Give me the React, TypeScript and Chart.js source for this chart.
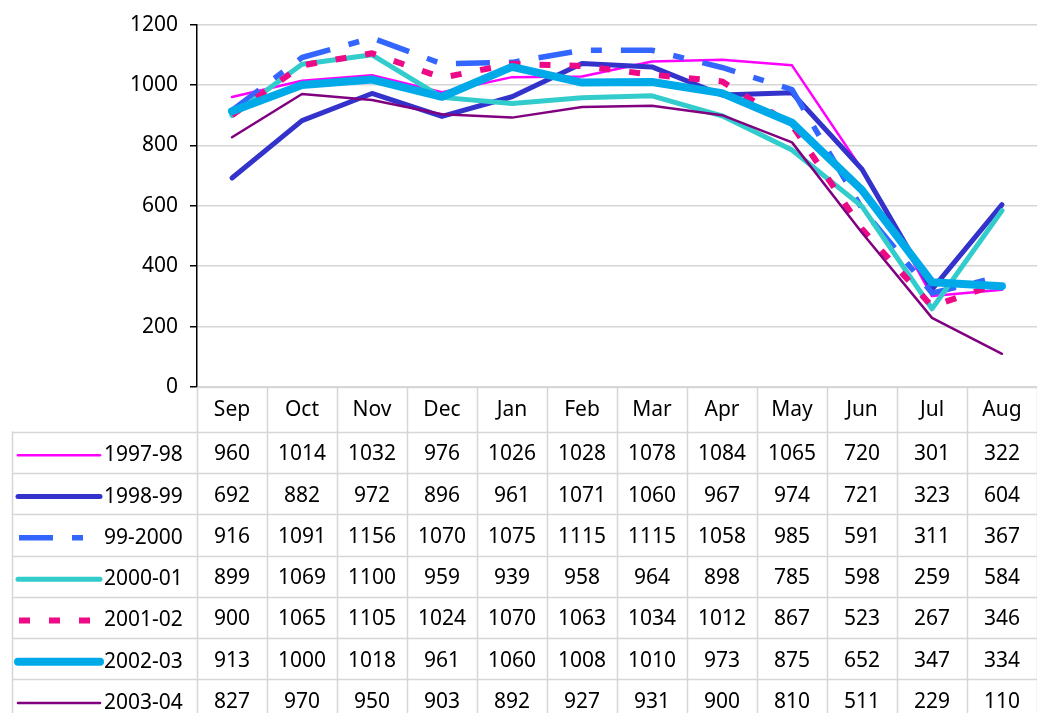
import React, { useEffect, useRef } from "react";
import { Chart, registerables } from "chart.js";

Chart.register(...registerables);

const months = ["Sep", "Oct", "Nov", "Dec", "Jan", "Feb", "Mar", "Apr", "May", "Jun", "Jul", "Aug"];
const seriesNames = ["1997-98", "1998-99", "99-2000", "2000-01", "2001-02", "2002-03", "2003-04"];

const s1997_98 = [960, 1014, 1032, 976, 1026, 1028, 1078, 1084, 1065, 720, 301, 322];
const s1998_99 = [692, 882, 972, 896, 961, 1071, 1060, 967, 974, 721, 323, 604];
const s1999_00 = [916, 1091, 1156, 1070, 1075, 1115, 1115, 1058, 985, 591, 311, 367];
const s2000_01 = [899, 1069, 1100, 959, 939, 958, 964, 898, 785, 598, 259, 584];
const s2001_02 = [900, 1065, 1105, 1024, 1070, 1063, 1034, 1012, 867, 523, 267, 346];
const s2002_03 = [913, 1000, 1018, 961, 1060, 1008, 1010, 973, 875, 652, 347, 334];
const s2003_04 = [827, 970, 950, 903, 892, 927, 931, 900, 810, 511, 229, 110];

const seriesValues = [s1997_98, s1998_99, s1999_00, s2000_01, s2001_02, s2002_03, s2003_04];

const yMin = 0;
const yMax = 1200;
const yStep = 200;

const seriesColors = ["#FF00FF", "#3333CC", "#3366FF", "#33CCCC", "#EE0A86", "#00AAE8", "#800080"];
const seriesWidths = [2.5, 5, 5.5, 5, 6, 8, 2.5];
const seriesDashes: number[][] = [[], [], [34, 19, 11, 19], [], [11, 19], [], []];

const FONT = "'Noto Sans', 'Open Sans', sans-serif";
const FONT_SIZE = 21;
const GRID = "#d6d6d6";

const tablePlugin = {
  id: "dataTable",
  afterDraw(chart: any) {
    const { ctx, chartArea, scales } = chart;
    const xs = scales.x;
    const top = chartArea.bottom;
    const right = chart.width;
    const bottom = chart.height;
    const headerH = 44.6;
    const rowH = 41.3;
    const tableLeft = 12;
    const n = months.length;
    const colW = xs.getPixelForValue(1) - xs.getPixelForValue(0);

    ctx.save();
    ctx.strokeStyle = GRID;
    ctx.lineWidth = 1.5;
    ctx.setLineDash([]);
    for (let i = 0; i <= n; i++) {
      const bx = Math.round(xs.getPixelForValue(0) - colW / 2 + i * colW) + 0.5;
      ctx.beginPath();
      ctx.moveTo(bx, top);
      ctx.lineTo(bx, bottom);
      ctx.stroke();
    }
    ctx.beginPath();
    ctx.moveTo(tableLeft + 0.5, top + headerH);
    ctx.lineTo(tableLeft + 0.5, bottom);
    ctx.stroke();
    ctx.beginPath();
    ctx.moveTo(chartArea.left, top + 0.5);
    ctx.lineTo(right, top + 0.5);
    ctx.stroke();
    for (let r = 0; r <= seriesNames.length; r++) {
      const y = Math.round(top + headerH + r * rowH) + 0.5;
      ctx.beginPath();
      ctx.moveTo(tableLeft, y);
      ctx.lineTo(right, y);
      ctx.stroke();
    }

    ctx.font = `${FONT_SIZE}px ${FONT}`;
    ctx.fillStyle = "#000";
    ctx.textBaseline = "middle";
    seriesNames.forEach((name, r) => {
      const cy = top + headerH + r * rowH + rowH / 2 + 2;
      ctx.save();
      ctx.strokeStyle = seriesColors[r];
      ctx.lineWidth = seriesWidths[r];
      const dashed = seriesDashes[r].length > 0;
      ctx.lineCap = dashed ? "butt" : "round";
      ctx.setLineDash(seriesDashes[r]);
      ctx.beginPath();
      ctx.moveTo(dashed ? 19 : 18, cy + 1);
      ctx.lineTo(100, cy + 1);
      ctx.stroke();
      ctx.restore();
      ctx.textAlign = "left";
      ctx.fillText(name, 104, cy + 1);
      ctx.textAlign = "center";
      seriesValues[r].forEach((v, i) => {
        ctx.fillText(String(v), xs.getPixelForValue(i), cy);
      });
    });
    ctx.restore();
  },
};

export default function App() {
  const canvasRef = useRef<HTMLCanvasElement | null>(null);

  useEffect(() => {
    const canvas = canvasRef.current;
    if (!canvas) return;
    const datasets = seriesNames.map((name, i) => ({
      label: name,
      data: seriesValues[i],
      borderColor: seriesColors[i],
      backgroundColor: seriesColors[i],
      borderWidth: seriesWidths[i],
      borderDash: seriesDashes[i],
      borderCapStyle: seriesDashes[i].length ? "butt" : "round",
      borderJoinStyle: "round",
      pointRadius: 0,
      pointHoverRadius: 0,
      tension: 0,
      fill: false,
      order: seriesNames.length - i,
    }));

    const chart = new Chart(canvas, {
      type: "line",
      data: { labels: months, datasets: datasets as any },
      options: {
        responsive: false,
        animation: false,
        devicePixelRatio: 1,
        layout: { padding: { top: 24, left: 0, right: 0, bottom: 0 } },
        plugins: {
          legend: { display: false },
          tooltip: { enabled: false },
          title: { display: false },
        },
        scales: {
          x: {
            type: "category",
            offset: true,
            grid: { display: false, drawTicks: false },
            border: { display: false },
            ticks: {
              color: "#000",
              font: { family: FONT, size: FONT_SIZE },
              padding: 10,
              maxRotation: 0,
              autoSkip: false,
            },
            afterFit: (scale: any) => {
              scale.height = 326;
            },
          },
          y: {
            min: yMin,
            max: yMax,
            ticks: {
              stepSize: yStep,
              color: "#000",
              font: { family: FONT, size: FONT_SIZE },
              padding: 12,
              callback: (v: any) => String(v),
            },
            grid: {
              color: GRID,
              lineWidth: 1.5,
              tickColor: "#000",
              tickLength: 7,
              drawTicks: true,
            },
            border: { display: true, color: "#000", width: 1.5 },
            afterFit: (scale: any) => {
              scale.width = 197;
            },
          },
        },
      },
      plugins: [tablePlugin],
    });
    return () => chart.destroy();
  }, []);

  return (
    <div style={{ position: "fixed", left: 0, top: 0, width: 1037, height: 713, background: "#fff" }}>
      <canvas ref={canvasRef} width={1037} height={713} style={{ display: "block" }} />
    </div>
  );
}
